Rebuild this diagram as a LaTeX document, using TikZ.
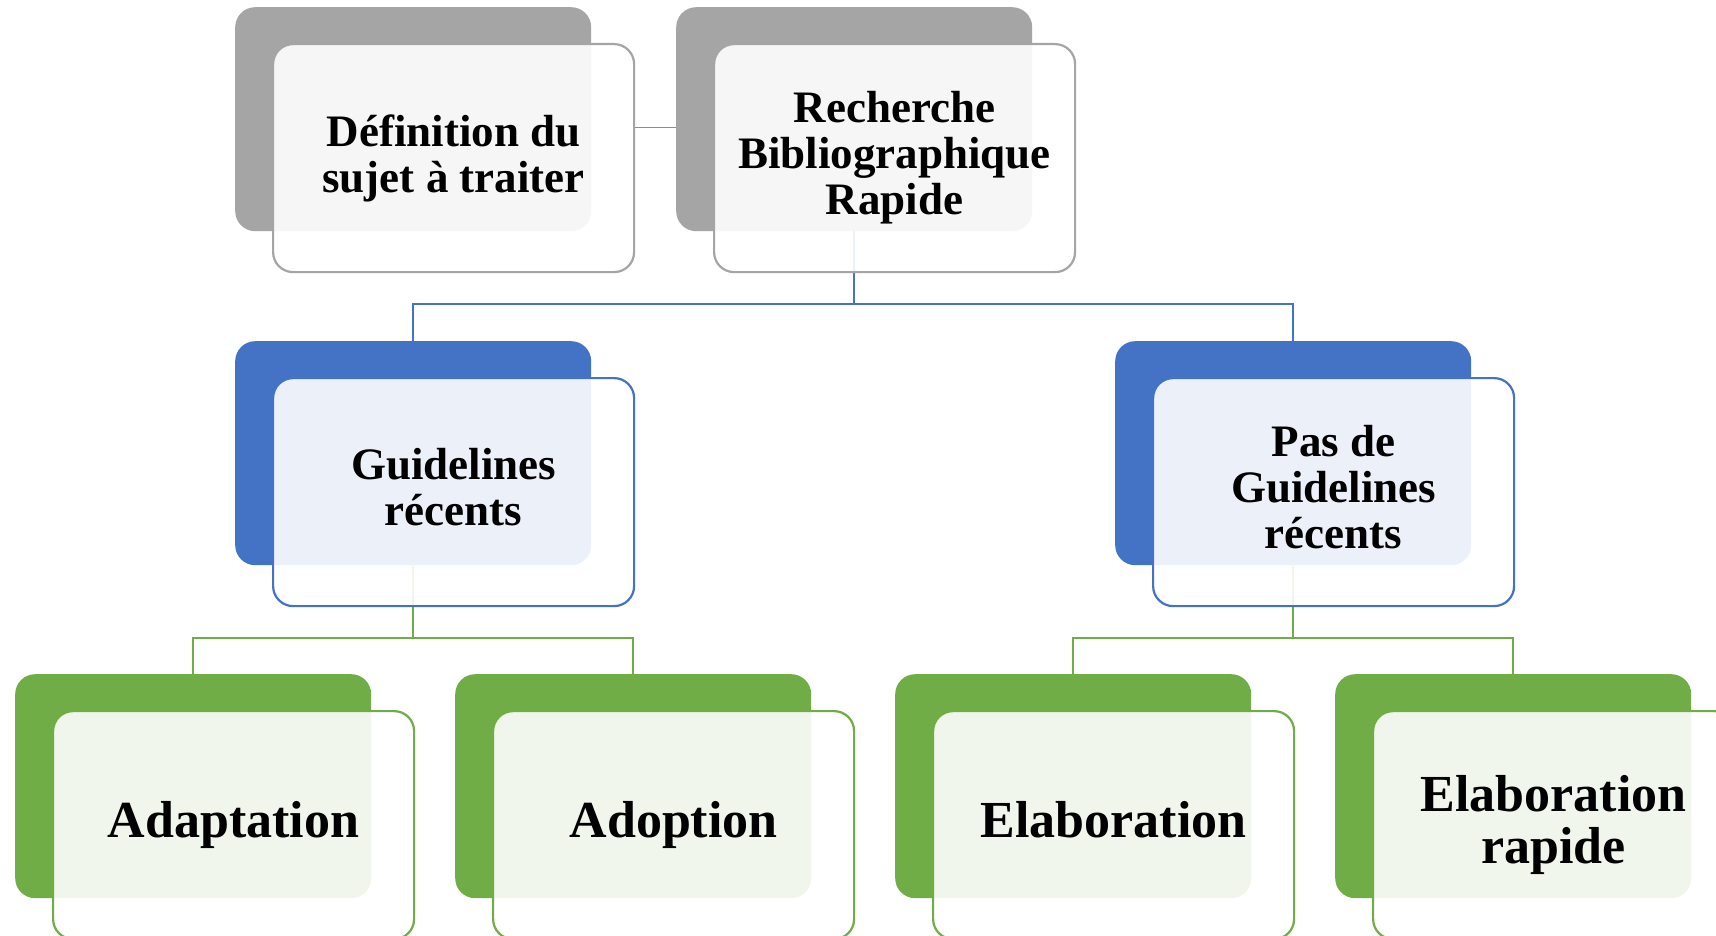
\documentclass[tikz,border=0pt]{standalone}
\usepackage{fontspec}
\setmainfont{Liberation Serif}
\usetikzlibrary{positioning}

\definecolor{boxgray}{HTML}{A5A5A5}
\definecolor{boxblue}{HTML}{4472C4}
\definecolor{boxgreen}{HTML}{70AD47}
\definecolor{linklight}{HTML}{5B9BD5}

\tikzset{
  backbox/.style={rectangle, rounded corners=20pt, minimum width=356pt, minimum height=224pt,
    inner sep=0pt, anchor=north west, fill=#1},
  frontbox/.style={rectangle, rounded corners=20pt, minimum width=361pt, minimum height=228pt,
    inner sep=4pt, draw=#1, line width=2.2pt, fill=white, fill opacity=0.9, text opacity=1,
    align=center, text=black},
  toptext/.style={font=\bfseries\fontsize{45}{46}\selectfont},
  lowtext/.style={font=\bfseries\fontsize{52}{52}\selectfont},
  link/.style={draw=#1, line width=2.2pt},
}

\begin{document}
\begin{tikzpicture}[x=1pt, y=1pt]
    \useasboundingbox (0,0) rectangle (1716,-936);
    \fill[white] (0,0) rectangle (1716,-936);
    \clip (0,0) rectangle (1716,-936);

    % back boxes
    \node[backbox=boxgray] (defB) at (235,-7) {};
    \node[backbox=boxgray] (bibB) at (676,-7) {};
    \node[backbox=boxblue] (guideB) at (235,-341) {};
    \node[backbox=boxblue] (noguideB) at (1115,-341) {};
    \node[backbox=boxgreen] (adaptB) at (15,-674) {};
    \node[backbox=boxgreen] (adoptB) at (455,-674) {};
    \node[backbox=boxgreen] (elabB) at (895,-674) {};
    \node[backbox=boxgreen] (elabrB) at (1335,-674) {};

    % connectors
    \coordinate (jtop) at (bibB.south |- 0,-304);
    \coordinate (jleft) at (guideB.south |- 0,-638);
    \coordinate (jright) at (noguideB.south |- 0,-638);
    \draw[link=boxblue] (bibB.south) -- (jtop) -| (guideB.north);
    \draw[link=boxblue] (jtop) -| (noguideB.north);
    \draw[link=boxgreen] (guideB.south) -- (jleft) -| (adaptB.north);
    \draw[link=boxgreen] (jleft) -| (adoptB.north);
    \draw[link=boxgreen] (noguideB.south) -- (jright) -| (elabB.north);
    \draw[link=boxgreen] (jright) -| (elabrB.north);

    % front boxes
    \node[frontbox=boxgray, toptext, below right=36pt and 37pt of defB.north west] (defF)
        {Définition du\\sujet à traiter};
    \node[frontbox=boxgray, toptext, below right=36pt and 37pt of bibB.north west] (bibF)
        {Recherche\\Bibliographique\\Rapide};
    \node[frontbox=boxblue, toptext, below right=36pt and 37pt of guideB.north west] (guideF)
        {Guidelines\\récents\vphantom{p}};
    \node[frontbox=boxblue, toptext, below right=36pt and 37pt of noguideB.north west] (noguideF)
        {Pas de\\Guidelines\\récents\vphantom{p}};
    \node[frontbox=boxgreen, lowtext, below right=36pt and 37pt of adaptB.north west] (adaptF)
        {Adaptation};
    \node[frontbox=boxgreen, lowtext, below right=36pt and 37pt of adoptB.north west] (adoptF)
        {Adoption};
    \node[frontbox=boxgreen, lowtext, below right=36pt and 37pt of elabB.north west] (elabF)
        {Elaboration\vphantom{p}};
    \node[frontbox=boxgreen, lowtext, below right=36pt and 37pt of elabrB.north west] (elabrF)
        {Elaboration\\rapide};

    % side link
    \coordinate (lk) at ([yshift=-8pt]bibB.west);
    \draw[linklight, line width=1.3pt] (lk -| defF.east) -- (lk);
\end{tikzpicture}
\end{document}
